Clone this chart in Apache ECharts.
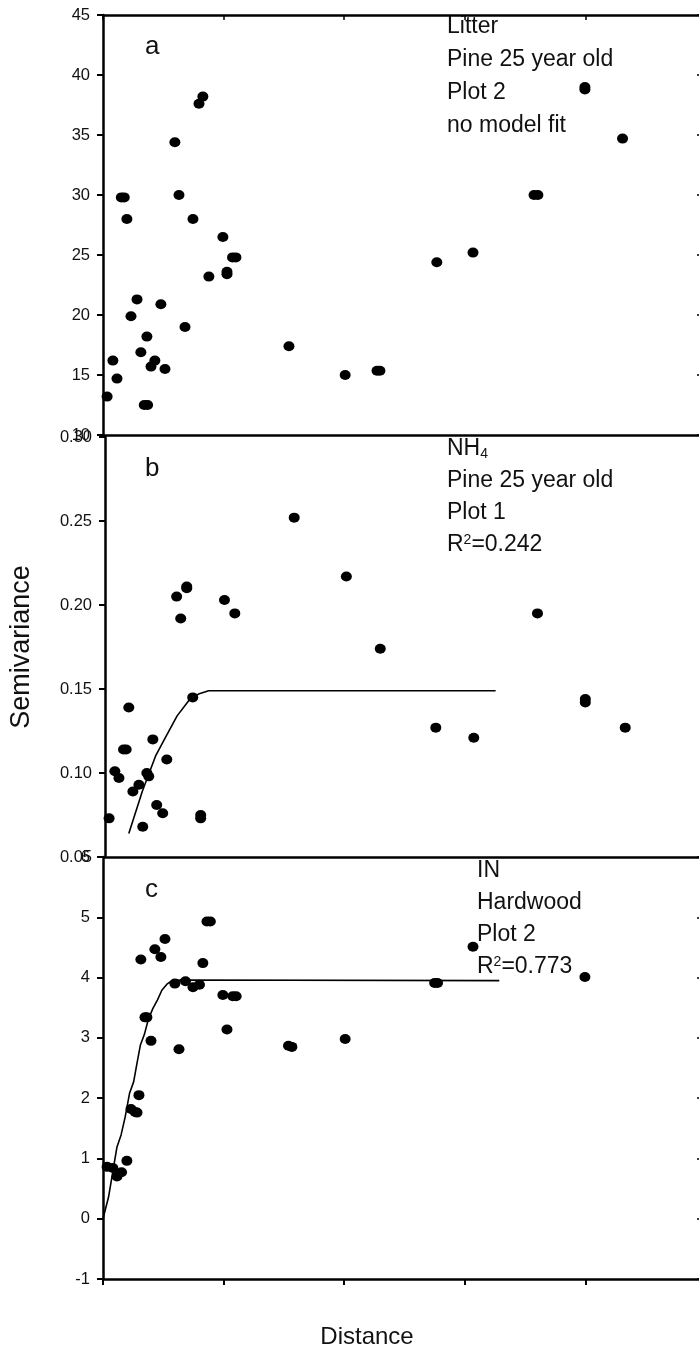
<!DOCTYPE html>
<html lang="en">
<head>
  <meta charset="UTF-8">
  <script src="https://cdn.jsdelivr.net/npm/echarts@6/dist/echarts.min.js"></script>
  <title>Semivariograms</title>
  <style>
    html, body { margin: 0; padding: 0; background: #ffffff; overflow: hidden; }
    /* the plot box runs a few pixels past the right edge of the window, as in the source figure */
    #chart { width: 707px; height: 1352px; }
  </style>
</head>
<body>
<div id="chart"></div>
<script>
  // ---- data (x = distance, y = semivariance) ----
  const litterPts = [
    [1.7, 13.2], [4.1, 16.2], [5.8, 14.7], [7.6, 29.8], [8.8, 29.8], [9.9, 28.0],
    [11.6, 19.9], [14.1, 21.3], [15.7, 16.9], [17.1, 12.5], [18.5, 12.5], [18.2, 18.2],
    [19.9, 15.7], [21.5, 16.2], [24.0, 20.9], [25.7, 15.5], [29.8, 34.4], [31.5, 30.0],
    [34.0, 19.0], [37.3, 28.0], [39.8, 37.6], [41.4, 38.2], [43.9, 23.2], [49.7, 26.5],
    [51.4, 23.6], [51.4, 23.4], [53.7, 24.8], [55.1, 24.8], [77.1, 17.4], [100.4, 15.0],
    [113.6, 15.35], [114.8, 15.35], [138.4, 24.4], [153.4, 25.2], [178.7, 30.0], [180.3, 30.0],
    [199.8, 38.8], [199.8, 39.0], [215.4, 34.7]
  ];

  const nh4Pts = [
    [1.7, 0.073], [4.1, 0.101], [5.8, 0.097], [7.7, 0.114], [8.8, 0.114], [9.9, 0.139],
    [11.6, 0.089], [14.1, 0.093], [15.7, 0.068], [17.4, 0.100], [18.2, 0.098], [19.9, 0.120],
    [21.5, 0.081], [24.0, 0.076], [25.7, 0.108], [29.8, 0.205], [31.5, 0.192], [34.0, 0.211],
    [34.0, 0.210], [36.5, 0.145], [39.8, 0.075], [39.8, 0.073], [49.7, 0.203], [54.0, 0.195],
    [78.7, 0.252], [100.4, 0.217], [114.5, 0.174], [137.6, 0.127], [153.4, 0.121], [179.9, 0.195],
    [199.8, 0.144], [199.8, 0.142], [216.4, 0.127]
  ];
  const nh4Fit = [
    [9.9, 0.064], [15.5, 0.089], [21.0, 0.110], [25.1, 0.121], [30.0, 0.134], [34.8, 0.143],
    [38.9, 0.147], [43.1, 0.149], [162.5, 0.149]
  ];

  const inPts = [
    [1.7, 0.86], [4.1, 0.84], [5.8, 0.70], [7.7, 0.77], [9.9, 0.96], [11.6, 1.82],
    [13.3, 1.77], [14.1, 1.76], [14.9, 2.05], [15.7, 4.30], [17.4, 3.34], [18.2, 3.34],
    [19.9, 2.95], [21.5, 4.47], [24.0, 4.34], [25.7, 4.64], [29.8, 3.90], [31.5, 2.81],
    [34.2, 3.94], [37.3, 3.84], [40.0, 3.88], [41.4, 4.24], [43.1, 4.93], [44.5, 4.93],
    [49.7, 3.71], [51.4, 3.14], [53.8, 3.69], [55.2, 3.69], [76.9, 2.87], [78.3, 2.85],
    [100.4, 2.98], [137.5, 3.91], [138.7, 3.91], [153.4, 4.51], [199.8, 4.01]
  ];
  const inFit = [
    [0, 0], [2.3, 0.36], [4.4, 0.86], [5.8, 1.19], [7.5, 1.39], [9.2, 1.69], [11.0, 2.08],
    [12.7, 2.27], [14.1, 2.58], [15.5, 2.88], [17.1, 3.05], [18.9, 3.32], [20.7, 3.49],
    [22.6, 3.63], [24.4, 3.79], [26.5, 3.89], [28.6, 3.95], [32.0, 3.96], [164.3, 3.95]
  ];

  // axis ranges
  const xRange = { min: 0, max: 250, interval: 50 };
  const yRanges = [
    { min: 10, max: 45, interval: 5, digits: 0 },
    { min: 0.05, max: 0.30, interval: 0.05, digits: 2 },
    { min: -1, max: 6, interval: 1, digits: 0 }
  ];

  // annotation text
  const panelLetters = ['a', 'b', 'c'];
  const notesA = ['Litter', 'Pine 25 year old', 'Plot 2', 'no model fit'];
  const notesB = ['NH{sub|4}', 'Pine 25 year old', 'Plot 1', 'R{sup|2}=0.242'];
  const notesC = ['IN', 'Hardwood', 'Plot 2', 'R{sup|2}=0.773'];

  const FONT = '"Liberation Sans", Arial, Helvetica, sans-serif';
  const grids = [
    { left: 103, right: 1, top: 15, height: 420 },
    { left: 103, right: 1, top: 437, height: 420 },
    { left: 103, right: 1, top: 857, height: 422 }
  ];

  function xAxisFor(grid, opts) {
    return Object.assign({
      type: 'value', gridIndex: grid,
      min: xRange.min, max: xRange.max, interval: xRange.interval,
      axisLine: { show: true, onZero: false, lineStyle: { color: '#000', width: 2.5 } },
      axisTick: { show: false },
      axisLabel: { show: false },
      splitLine: { show: false }
    }, opts || {});
  }

  function yAxisFor(grid, side, opts) {
    const r = yRanges[grid];
    const base = {
      type: 'value', gridIndex: grid, position: side,
      min: r.min, max: r.max, interval: r.interval,
      axisLine: { show: true, onZero: false, lineStyle: { color: '#000', width: 2.5 } },
      splitLine: { show: false }
    };
    if (side === 'left') {
      base.axisTick = { show: true, inside: false, length: 6, lineStyle: { color: '#000', width: 2 } };
      base.axisLabel = {
        show: true, margin: 13, color: '#111', fontSize: 16.5, fontFamily: FONT,
        formatter: v => v.toFixed(r.digits)
      };
    } else {
      base.axisTick = { show: true, inside: true, length: 9, lineStyle: { color: '#000', width: 1.5 } };
      base.axisLabel = { show: false };
    }
    return Object.assign(base, opts || {});
  }

  const dotStyle = { color: '#000', opacity: 1 };
  const lineStyle = { color: '#000', width: 1.6 };

  function notesGraphic(lines, left, firstY, step) {
    return lines.map((t, i) => ({
      type: 'text', left: left, top: firstY + i * step,
      style: {
        text: t, fill: '#111', font: '23px ' + FONT,
        rich: {
          sub: { fontSize: 14, fontFamily: FONT, fill: '#111', padding: [12, 0, 0, 0] },
          sup: { fontSize: 14, fontFamily: FONT, fill: '#111', padding: [0, 0, 10, 0] }
        }
      }
    }));
  }

  const chart = echarts.init(document.getElementById('chart'), null, { renderer: 'canvas' });

  const letterPos = [[145, 34], [145, 456], [145, 877]];
  const graphics = []
    .concat(panelLetters.map((l, i) => ({
      type: 'text', left: letterPos[i][0], top: letterPos[i][1],
      style: { text: l, fill: '#111', font: '26px ' + FONT }
    })))
    .concat(notesGraphic(notesA, 447, 15, 33))
    .concat(notesGraphic(notesB, 447, 437, 32))
    .concat(notesGraphic(notesC, 477, 859, 32));

  const option = {
    animation: false,
    backgroundColor: '#ffffff',
    textStyle: { fontFamily: FONT },
    grid: grids,
    xAxis: [
      xAxisFor(0),
      xAxisFor(0, {
        position: 'top',
        axisTick: { show: true, inside: true, length: 5, lineStyle: { color: '#000', width: 1.5 } }
      }),
      xAxisFor(1),
      xAxisFor(2, {
        axisTick: { show: true, inside: false, length: 6, lineStyle: { color: '#000', width: 2 } },
        name: 'Distance', nameLocation: 'middle', nameGap: 46,
        // title sits left of the plot centre in the source
        nameTextStyle: { fontSize: 24, color: '#111', fontFamily: FONT, padding: [0, 75, 0, 0] }
      })
    ],
    yAxis: [
      yAxisFor(0, 'left'),
      yAxisFor(0, 'right'),
      yAxisFor(1, 'left', {
        name: 'Semivariance', nameLocation: 'middle', nameGap: 70, nameRotate: 90,
        nameTextStyle: { fontSize: 27, color: '#111', fontFamily: FONT }
      }),
      yAxisFor(1, 'right', { axisTick: { show: false } }),
      yAxisFor(2, 'left'),
      yAxisFor(2, 'right')
    ],
    graphic: graphics,
    series: [
      { type: 'scatter', xAxisIndex: 0, yAxisIndex: 0, data: litterPts,
        symbol: 'circle', symbolSize: [11, 10], itemStyle: dotStyle },
      { type: 'scatter', xAxisIndex: 2, yAxisIndex: 2, data: nh4Pts,
        symbol: 'circle', symbolSize: [11, 10], itemStyle: dotStyle },
      { type: 'line', xAxisIndex: 2, yAxisIndex: 2, data: nh4Fit,
        showSymbol: false, lineStyle: lineStyle },
      { type: 'scatter', xAxisIndex: 3, yAxisIndex: 4, data: inPts,
        symbol: 'circle', symbolSize: [11, 10], itemStyle: dotStyle },
      { type: 'line', xAxisIndex: 3, yAxisIndex: 4, data: inFit,
        showSymbol: false, lineStyle: lineStyle }
    ]
  };
  chart.setOption(option);
</script>
</body>
</html>
